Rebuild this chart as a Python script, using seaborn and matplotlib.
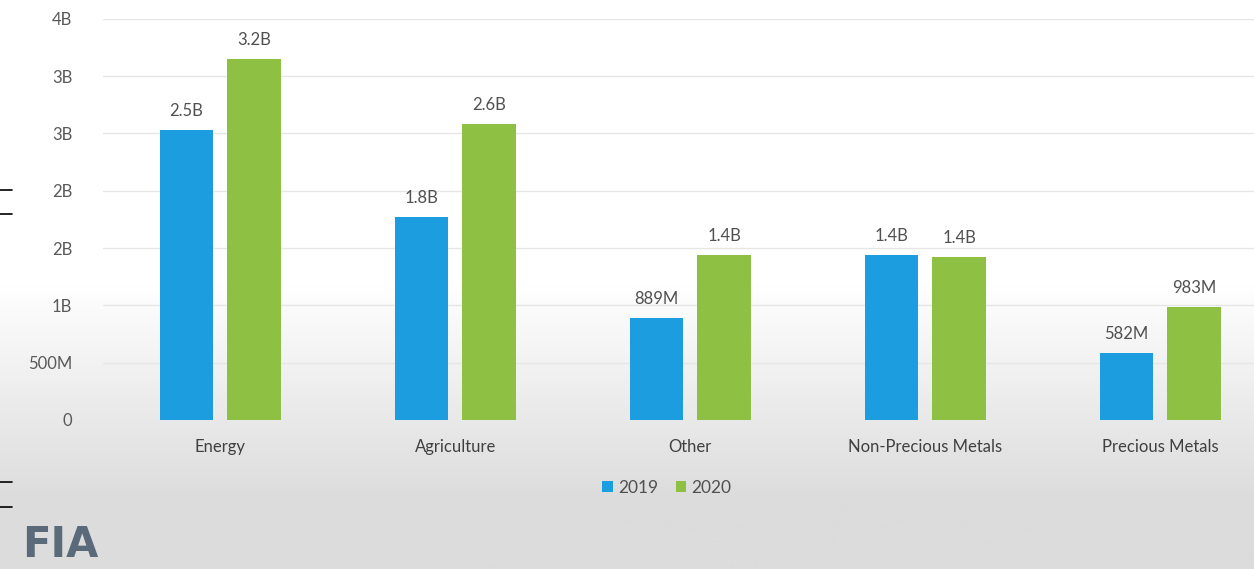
import matplotlib
matplotlib.use("Agg")
import matplotlib.pyplot as plt
import seaborn as sns
import pandas as pd
import numpy as np
from matplotlib.lines import Line2D
from matplotlib.colors import LinearSegmentedColormap

categories = ["Energy", "Agriculture", "Other", "Non-Precious Metals", "Precious Metals"]
years = ["2019", "2020"]
values_2019 = [2.53e9, 1.77e9, 0.889e9, 1.44e9, 0.582e9]
values_2020 = [3.15e9, 2.58e9, 1.44e9, 1.42e9, 0.983e9]
labels_2019 = ["2.5B", "1.8B", "889M", "1.4B", "582M"]
labels_2020 = ["3.2B", "2.6B", "1.4B", "1.4B", "983M"]
ytick_values = [0, 0.5e9, 1.0e9, 1.5e9, 2.0e9, 2.5e9, 3.0e9, 3.5e9]
ytick_labels = ["0", "500M", "1B", "2B", "2B", "3B", "3B", "4B"]

df = pd.DataFrame({
    "category": categories * 2,
    "year": [years[0]] * 5 + [years[1]] * 5,
    "value": values_2019 + values_2020,
})

sns.set_theme(style="white")
plt.rcParams['font.family'] = ['Lato', 'DejaVu Sans']

fig = plt.figure(figsize=(12.54, 5.69), dpi=100)
# light gradient background at bottom
bg = fig.add_axes([0, 0, 1, 1], zorder=-10)
grad = np.linspace(0, 1, 256).reshape(-1, 1)
grad = np.clip((grad - 0.12) / 0.38, 0, 1)
cmap = LinearSegmentedColormap.from_list("bg", ["#dcdcdc", "#ffffff"])
bg.imshow(grad, aspect="auto", cmap=cmap, extent=[0, 1, 0, 1], origin="lower")
bg.axis("off")

ax = fig.add_axes([0.082, 0.262, 0.937, 0.705])
ax.patch.set_alpha(0)
palette = {"2019": "#1b9de0", "2020": "#8ec044"}
sns.barplot(data=df, x="category", y="value", hue="year", palette=palette,
            width=0.575, gap=0.21, ax=ax, saturation=1, legend=True, linewidth=0)

ax.set_ylim(0, 3.5e9)
ax.set_yticks(ytick_values)
ax.set_yticklabels(ytick_labels)
ax.grid(axis="y", color="#e6e6e6", linewidth=1)
ax.set_axisbelow(True)
for s in ax.spines.values():
    s.set_visible(False)
ax.set_xlabel("")
ax.set_ylabel("")
ax.tick_params(axis="y", length=0, pad=22, labelsize=12, labelcolor="#595959")
ax.tick_params(axis="x", length=0, pad=14, labelsize=12, labelcolor="#404040")

for cont, labs in zip(ax.containers, [labels_2019, labels_2020]):
    ax.bar_label(cont, labels=labs, padding=8, fontsize=12, color="#505050")

leg = ax.legend(loc="upper center", bbox_to_anchor=(0.48, -0.11), ncol=2, frameon=False,
                fontsize=12.5, handlelength=0.6, handleheight=0.6, handletextpad=0.3,
                columnspacing=1.0)
for t in leg.get_texts():
    t.set_color("#505050")

# edge marks at left
for yy in [190, 214, 482, 507]:
    fig.add_artist(Line2D([0, 12 / 1254], [1 - yy / 569, 1 - yy / 569], color="black", lw=1.2))

fig.text(22 / 1254, 1 - 545 / 569, "FIA", fontsize=30, fontweight="bold", color="#5a6a7a",
         va="center", ha="left", family=["DejaVu Sans"])

fig.savefig("out.png", dpi=100)
